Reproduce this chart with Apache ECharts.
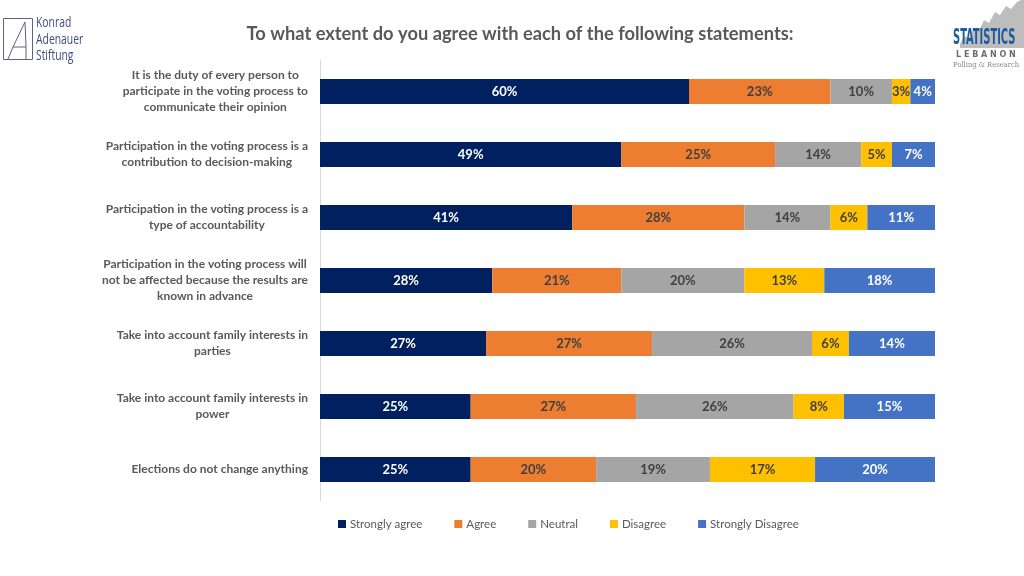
<!DOCTYPE html>
<html>
<head>
<meta charset="utf-8">
<script src="https://cdn.jsdelivr.net/npm/echarts@6/dist/echarts.min.js"></script>
<style>html,body{margin:0;padding:0;background:#fff}#c{width:1024px;height:576px}</style>
</head>
<body>
<div id="c"></div>
<script>
const categories = [
  "It is the duty of every person to\nparticipate in the voting process to\ncommunicate their opinion",
  "Participation in the voting process is a\ncontribution to decision-making",
  "Participation in the voting process is a\ntype of accountability",
  "Participation in the voting process will\nnot be affected because the results are\nknown in advance",
  "Take into account family interests in\nparties",
  "Take into account family interests in\npower",
  "Elections do not change anything"
];
const seriesNames = ["Strongly agree", "Agree", "Neutral", "Disagree", "Strongly Disagree"];
const stronglyAgree    = [60, 49, 41, 28, 27, 24.5, 24.5];
const agree            = [23, 25, 28, 21, 27, 26.9, 20.4];
const neutral          = [10, 14, 14, 20, 26, 25.6, 18.5];
const disagree         = [3, 5, 6, 13, 6, 8.2, 17.1];
const stronglyDisagree = [4, 7, 11, 18, 14, 14.8, 19.5];
const seriesData = [stronglyAgree, agree, neutral, disagree, stronglyDisagree];
const colors = ["#002060", "#ED7D31", "#A5A5A5", "#FFC000", "#4472C4"];
const labelColors = ["#ffffff", "#404040", "#404040", "#404040", "#ffffff"];

const FONT = "Lato, 'Open Sans', sans-serif";
const chart = echarts.init(document.getElementById('c'));

const series = seriesNames.map((name, i) => ({
  name: name,
  type: 'bar',
  stack: 'total',
  barWidth: 25,
  data: seriesData[i],
  itemStyle: { color: colors[i] },
  label: {
    show: true,
    position: 'inside',
    formatter: p => Math.round(p.value) + '%',
    color: labelColors[i],
    fontFamily: FONT,
    fontWeight: 'bold',
    fontSize: 13
  }
}));

chart.setOption({
  animation: false,
  backgroundColor: '#ffffff',
  title: {
    text: 'To what extent do you agree with each of the following statements:',
    left: 515, top: 20, textAlign: 'center',
    textStyle: { fontFamily: FONT, fontWeight: 'bold', fontSize: 18.3, color: '#595959' }
  },
  legend: {
    top: 513, left: 333,
    itemWidth: 8, itemHeight: 8, itemGap: 32,
    icon: 'rect',
    textStyle: { fontFamily: FONT, fontSize: 11.5, color: '#595959', padding: [0, 0, 0, -1] },
    data: seriesNames
  },
  grid: { left: 320, right: 89, top: 60, height: 441 },
  xAxis: { type: 'value', min: 0, max: 100, show: false },
  yAxis: {
    type: 'category',
    inverse: true,
    data: categories,
    axisLine: { show: true, lineStyle: { color: '#D9D9D9', width: 1 } },
    axisTick: { show: false },
    axisLabel: {
      align: 'right',
      margin: 12,
      formatter: v => v.split('\n').map(l => '{c|' + l + '}').join('\n'),
      rich: {
        c: { align: 'center', fontFamily: FONT, fontWeight: 'bold', fontSize: 12, lineHeight: 16, color: '#595959' }
      }
    }
  },
  series: series,
  graphic: [
    { type: 'rect', shape: { x: 3.5, y: 18.5, width: 29, height: 41 }, style: { fill: 'none', stroke: '#5A6285', lineWidth: 1 } },
    { type: 'polyline', shape: { points: [[8, 59], [13, 47], [26, 47], [26, 59]] }, style: { fill: 'none', stroke: '#5A6285', lineWidth: 1 } },
    { type: 'polyline', shape: { points: [[13, 47], [25, 22], [26, 47]] }, style: { fill: 'none', stroke: '#5A6285', lineWidth: 1 } },
    { type: 'text', x: 36, y: 15, scaleX: 0.74, style: { text: 'Konrad\nAdenauer\nStiftung', fill: '#3F4D85', font: '14px "Open Sans", sans-serif', lineHeight: 16.5 } },
    { type: 'polygon', shape: { points: [[960, 44], [964, 36], [969, 38], [974, 28], [979, 31], [984, 20], [989, 23], [995, 12], [1000, 15], [1006, 6], [1011, 9], [1017, 2], [1021, 0], [1024, 0], [1024, 48], [960, 48]] }, style: { fill: '#BDBDBD' } },
    { type: 'text', x: 953, y: 27, scaleX: 0.5, style: { text: 'STATISTICS', fill: '#1F5C9E', font: 'bold 22px "DejaVu Sans Condensed", sans-serif' } },
    { type: 'text', x: 956, y: 51, style: { text: 'L E B A N O N', fill: '#6E6E6E', font: 'bold 8px "DejaVu Sans", sans-serif' } },
    { type: 'text', x: 953, y: 61, scaleX: 0.85, style: { text: 'Polling & Research', fill: '#8a8a8a', font: '8px "DejaVu Serif", serif' } }
  ]
});
</script>
</body>
</html>
